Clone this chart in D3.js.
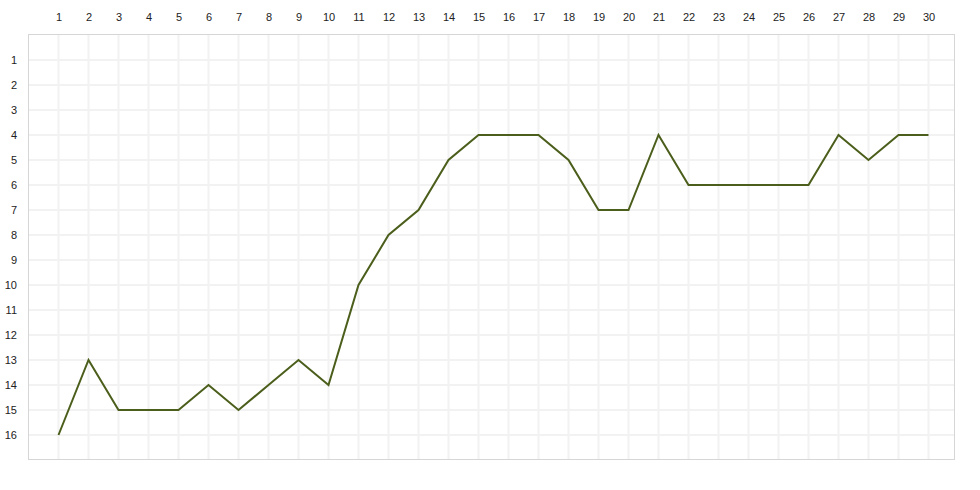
<html>
    <head>
        <meta charset="utf-8">
        <title>Rank line chart</title>
        <script type="text/javascript" src="https://cdn.jsdelivr.net/npm/d3@7"></script>
        <style>
            body { margin: 0; background: #fff; }
            text { font-family: Arial, "Liberation Sans", sans-serif; font-size: 11px; fill: #222; }
        </style>
    </head>
    <body>
        <script type="text/javascript">
            // chart data
            var rounds = d3.range(1, 31);
            var positions = [16, 13, 15, 15, 15, 14, 15, 14, 13, 14, 10, 8, 7, 5, 4,
                             4, 4, 5, 7, 7, 4, 6, 6, 6, 6, 6, 4, 5, 4, 4];
            var rankTicks = d3.range(1, 17);

            var w = 980;
            var h = 490;
            var box = { left: 28, top: 34, right: 955, bottom: 460 };

            var svg = d3.select("body").append("svg")
                        .attr("width", w)
                        .attr("height", h);

            var x = d3.scaleLinear().domain([1, 30]).range([58.5, 928.5]);
            var y = d3.scaleLinear().domain([1, 16]).range([60, 435]);

            // grid
            svg.append("g").selectAll("line")
               .data(rounds).enter().append("line")
               .attr("x1", function(d) { return x(d); })
               .attr("x2", function(d) { return x(d); })
               .attr("y1", box.top).attr("y2", box.bottom)
               .style("stroke", "#f2f2f2").style("stroke-width", 2);

            svg.append("g").selectAll("line")
               .data(rankTicks).enter().append("line")
               .attr("y1", function(d) { return y(d); })
               .attr("y2", function(d) { return y(d); })
               .attr("x1", box.left).attr("x2", box.right)
               .style("stroke", "#f2f2f2").style("stroke-width", 2);

            // border
            svg.append("rect")
               .attr("x", box.left + 0.5).attr("y", box.top + 0.5)
               .attr("width", box.right - box.left - 1)
               .attr("height", box.bottom - box.top - 1)
               .style("fill", "none").style("stroke", "#d6d6d6");

            // axes (labels only)
            var xAxis = svg.append("g")
               .attr("transform", "translate(0," + 24 + ")")
               .call(d3.axisTop(x).tickValues(rounds).tickSize(0).tickFormat(d3.format("d")));
            xAxis.select(".domain").remove();
            xAxis.selectAll("text").attr("dy", 0).style("font-size", "11px").attr("fill", "#222");

            var yAxis = svg.append("g")
               .attr("transform", "translate(" + 17 + ",0)")
               .call(d3.axisLeft(y).tickValues(rankTicks).tickSize(0).tickFormat(d3.format("d")));
            yAxis.select(".domain").remove();
            yAxis.selectAll("text").attr("x", 0).style("font-size", "11px").attr("fill", "#222");

            // line
            var line = d3.line()
                         .x(function(d, i) { return x(rounds[i]); })
                         .y(function(d) { return y(d); });

            svg.append("path")
               .datum(positions)
               .attr("d", line)
               .style("fill", "none")
               .style("stroke", "#4b5e1b")
               .style("stroke-width", 2);
        </script>
    </body>
</html>
